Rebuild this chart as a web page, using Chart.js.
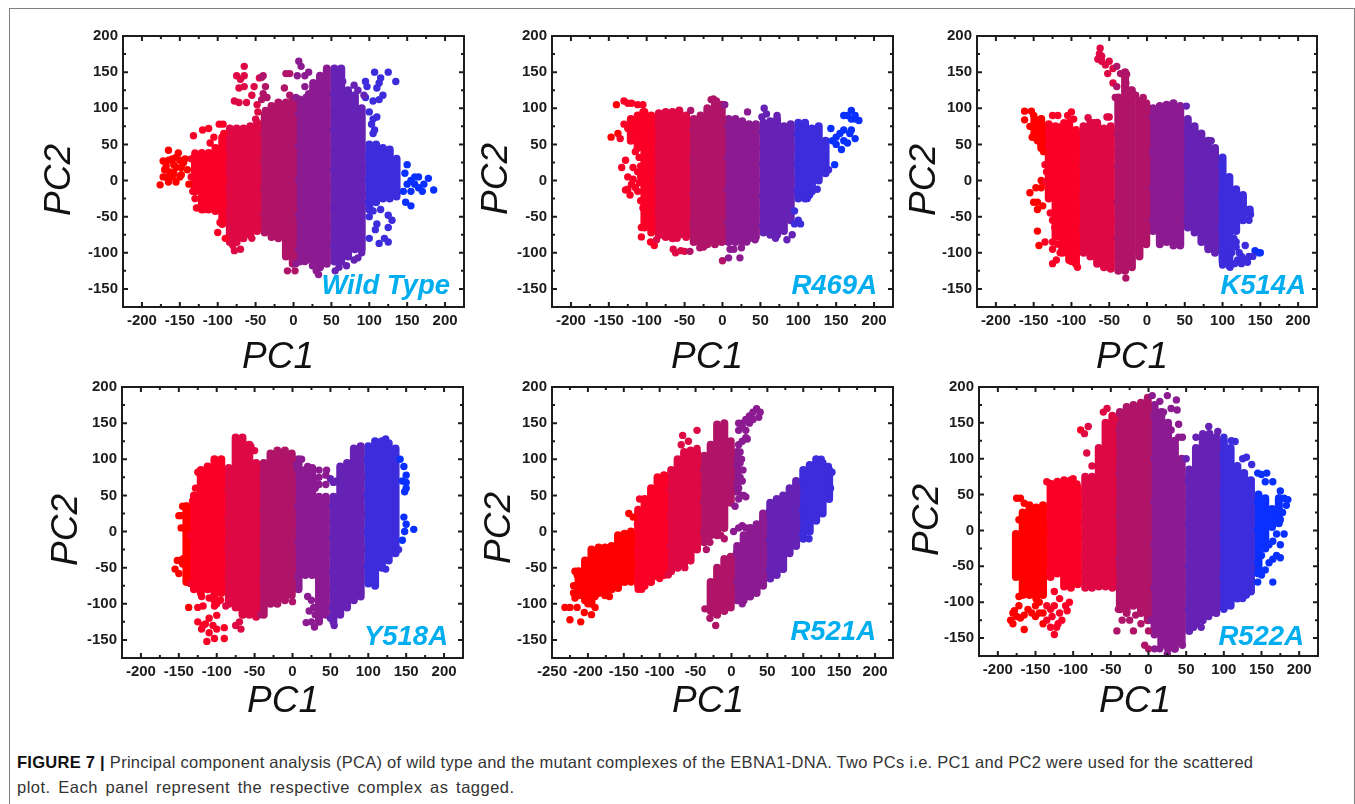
<!DOCTYPE html>
<html lang="en">
<head>
<title>Figure 7 PCA</title>
<script src="https://cdn.jsdelivr.net/npm/chart.js@4.4.1/dist/chart.umd.min.js"></script>
<style>
    body { margin: 0; background: #fff; width: 1355px; height: 804px; overflow: hidden; position: relative; font-family: "Liberation Sans", Arial, sans-serif; }
    canvas { position: absolute; }
    .rule { position: absolute; background: #808080; }
    .axisname { position: absolute; font: italic 37px "Liberation Sans", Arial, sans-serif; color: #111; white-space: nowrap; transform: translate(-50%, -50%); }
    .axisname.v { transform: translate(-50%, -50%) rotate(-90deg); }
    .tag { position: absolute; font: italic bold 27.5px "Liberation Sans", Arial, sans-serif; color: #00aeef; white-space: nowrap; transform: translateY(-50%); }
    .caption { position: absolute; left: 17px; font-size: 16.5px; color: #333; white-space: nowrap; transform: translateY(-50%); }
    .caption b { color: #111; }
</style>
</head>
<body>
<div class="rule" style="left:9px;top:8px;width:1346px;height:1px"></div>
<div class="rule" style="left:9px;top:8px;width:1px;height:796px"></div>
<div class="rule" style="left:1354px;top:8px;width:1px;height:796px"></div>
<div class="caption" style="top:762px;letter-spacing:0.27px"><b>FIGURE 7 | </b>Principal component analysis (PCA) of wild type and the mutant complexes of the EBNA1-DNA. Two PCs i.e. PC1 and PC2 were used for the scattered</div>
<div class="caption" style="top:787px;letter-spacing:0.5px;word-spacing:2.5px">plot. Each panel represent the respective complex as tagged.</div>

<script>
    // ticks
    const xTicks = [-200, -150, -100, -50, 0, 50, 100, 150, 200];
    const xMinor = [-175, -125, -75, -25, 25, 75, 125, 175];
    const xTicksWide = [-250, -200, -150, -100, -50, 0, 50, 100, 150, 200];
    const xMinorWide = [-225, -175, -125, -75, -25, 25, 75, 125, 175];
    const yTicks = [-150, -100, -50, 0, 50, 100, 150, 200];
    const yMinor = [-125, -75, -25, 25, 75, 125, 175];

    // colour bands along PC1
    const bandEdges = [-135, -89, -43, 3, 49, 95, 141];
    const bandColors = ['#ff0000', '#fb0027', '#de0845', '#b01468', '#8c1a90', '#6622b4', '#3c2cdc', '#0a30ff'];

    // Wild Type
    const wtX =   [-130,-121,-112,-103, -94, -84, -75, -66, -57, -48, -38, -29, -20, -10,  -1,   8,  17,  26,  35,  44,  54,  63,  72,  81,  90, 100, 109, 118, 127, 136];
    const wtTop = [  35,  38,  38,  45,  60,  72,  72,  72,  75,  80,  92, 103, 108, 108, 110, 112, 115, 135, 145, 155, 155, 155, 125, 118, 100,  50,  50,  45,  43,  30];
    const wtBot = [ -15, -40, -40, -42, -60, -85, -85, -80, -75, -70, -72, -78, -80,-105,-115,-112,-110,-112,-120,-115,-112,-112,-105, -95, -95, -40, -30, -25, -25, -22];
    const wtStray = [[-176,-6],[-172,27],[-165,42],[-152,38],[-168,20],[-160,30],[-150,28],[-155,18],[-145,25],[-172,5],[-160,5],[-150,5],[-155,-2],[-165,-2],[-148,8],[-135,30],[-130,38],
        [-170,15],[-163,12],[-158,22],[-165,28],[-155,32],[-148,18],[-143,30],[-158,10],[-168,5],[-138,-5],[-135,5],[-140,15],
        [-132,62],[-120,70],[-112,72],[-105,60],[-98,78],[-93,78],[-92,65],[-110,52],[-130,-10],[-133,-15],[-130,-25],[-128,-38],[-118,-40],[-100,-72],[-97,-58],[-90,-80],
        [-75,145],[-70,140],[-65,158],[-65,145],[-72,128],[-65,130],[-78,110],[-72,108],[-62,108],[-55,118],[-48,105],[-45,142],[-42,143],[-40,145],[-52,130],[-37,130],[-40,120],[-35,115],[-42,112],[-47,95],[-50,85],[-37,97],
        [-80,-90],[-78,-97],[-70,-95],[-55,-80],[-12,128],[-10,148],[-5,148],[-5,118],[3,115],[5,145],[7,165],[10,158],[15,145],[15,130],[20,150],[20,120],
        [-8,-125],[2,-125],[3,-115],[15,-112],[30,-125],[33,-130],[25,-118],[55,-125],[60,-120],[70,-118],[80,-110],[90,-100],[85,-107],
        [95,115],[97,130],[95,137],[107,150],[113,135],[115,142],[125,150],[135,137],[110,128],[118,118],[105,110],[113,112],[100,95],[105,85],[110,88],[103,78],[107,70],[105,65],[93,118],[80,132],[65,137],[85,125],
        [100,-50],[105,-42],[115,-40],[125,-48],[110,-60],[108,-68],[130,-55],[125,-65],[120,-80],[125,-85],[113,-87],[100,-80],
        [147,10],[150,22],[145,-15],[155,-15],[148,-30],[155,-35],[165,-10],[170,-15],[160,5],[165,5],[178,3],[185,-13],[155,0],[150,-5],[160,-5],[172,-5]];
    const wtSeam = [[-85,50],[-93,35],[-85,18],[-93,2],[-85,-14],[-93,-28],[-85,-45],
        [-39,62],[-47,45],[-39,28],[-47,8],[-39,-12],[-47,-30],[-39,-48],[-47,-62],
        [7,92],[-1,70],[7,48],[-1,25],[7,0],[-1,-25],[7,-48],[-1,-72],[7,-95],
        [53,120],[45,95],[53,70],[45,42],[53,15],[45,-10],[53,-38],[45,-65],[53,-90],
        [99,35],[91,18],[99,0],[91,-18],[99,-30]];

    // R469A
    const r469X =   [-121,-112,-103, -94, -84, -75, -66, -57, -48, -38, -29, -20, -10,  -1,   8,  17,  26,  35,  44,  54,  63,  72,  81,  90, 100, 109, 118, 127, 136];
    const r469Top = [  85,  90,  95,  90,  93,  95,  95,  97,  90,  85,  90, 100, 108, 105,  85,  85,  82,  78,  78,  80,  82,  85,  75,  78,  80,  80,  72,  75,  55];
    const r469Bot = [  55,  45, -65, -72, -75, -78, -80, -75, -78, -85, -88, -88, -88, -85, -85, -85, -85, -80, -78, -72, -75, -75, -70, -55, -25, -25, -15,   0,  10];
    const r469Stray = [[-147,60],[-140,105],[-138,65],[-135,58],[-130,110],[-125,107],[-120,107],[-112,105],[-105,105],[-105,95],[-128,28],[-133,18],[-118,18],[-125,5],[-120,-5],[-128,-13],[-122,-20],[-115,-10],[-110,-3],[-108,5],[-105,-15],[-105,-38],[-100,-40],[-103,-52],[-107,-65],[-107,-78],[-95,-85],[-90,-90],[-87,-82],[-80,-75],
        [-115,40],[-110,32],[-108,20],[-112,12],[-118,2],[-125,-12],[-112,-15],[-108,-28],[-130,78],[-125,72],
        [-65,-95],[-62,-100],[-55,-97],[-50,-98],[-43,-98],[-60,-80],[-42,-72],[-30,-93],[-25,-92],[-42,97],[-15,112],[-12,113],[-8,110],[3,105],[0,-111],[8,-107],[23,-107],[10,-95],[15,-95],[25,-93],[32,-85],[43,-82],[33,95],[55,100],[52,88],[72,90],[58,92],[75,75],
        [70,-80],[85,-82],[92,-75],[95,-60],[100,-55],[103,-60],[90,-30],[95,-42],[115,-20],[112,-25],[125,-12],[140,15],[148,22],[145,55],[150,60],[155,65],[143,72],[160,70],[150,50],[160,55],[165,52],[157,43],[165,90],[170,85],[170,97],[175,85],[180,83],[175,90],[170,70],[168,65],[175,58],[160,90]];
    const r469Seam = [[-85,78],[-93,60],[-85,40],[-93,20],[-85,0],[-93,-20],[-85,-42],[-93,-60],
        [-39,70],[-47,50],[-39,28],[-47,5],[-39,-18],[-47,-40],[-39,-60],[-47,-72],
        [7,75],[-1,55],[7,32],[-1,10],[7,-12],[-1,-35],[7,-58],[-1,-75],
        [53,68],[45,45],[53,22],[45,0],[53,-22],[45,-45],[53,-62],
        [99,65],[91,45],[99,22],[91,2],[99,-15]];

    // K514A
    const k514X =   [-149,-140,-130,-121,-112,-103, -94, -84, -75, -66, -57, -48, -38, -29, -20, -10,  -1,   8,  17,  26,  35,  44,  54,  63,  72,  81,  90, 100, 109, 118, 127, 136];
    const k514Top = [  85,  85,  78,  75,  75,  80,  70,  75,  80,  80,  72,  75, 115, 150, 125, 110, 107, 100, 103, 105, 107, 103,  85,  75,  65,  55,  45,  32,   5, -12, -20, -40];
    const k514Bot = [  60,  45, -25, -78,-100,-110,-115,-100,-105,-115,-120,-122,-125,-125,-120,-105, -88, -70, -88, -85, -90, -90, -65, -72, -85, -95,-100,-112,-118, -70, -55, -45];
    const k514Stray = [[-62,183],[-63,175],[-65,168],[-60,165],[-55,160],[-50,165],[-45,155],[-40,158],[-35,148],[-27,147],[-45,135],[-40,130],[-28,135],[-22,125],[-15,118],[-5,115],[-42,115],[-52,148],[-60,172],
        [-162,96],[-153,96],[-162,84],[-150,90],[-155,75],[-150,60],[-140,85],[-152,60],[-145,55],[-137,40],[-135,22],[-133,12],[-140,0],[-135,-2],[-140,-10],[-147,-10],[-155,-17],[-150,-30],[-145,-30],[-145,-40],[-138,-35],[-145,-70],[-143,-90],[-135,-85],[-125,-85],[-125,-115],[-120,-75],[-105,-100],[-100,-112],[-92,-120],[-118,90],[-125,90],[-110,80],[-100,95],[-97,85],[-105,90],[-50,88],[-53,88],[-78,87],[-70,80],
        [-145,70],[-140,65],[-138,55],[-128,-45],[-125,-55],[-122,-65],[-115,-100],[-125,-95],[-120,-110],[-118,-88],
        [115,-80],[118,-85],[130,-90],[143,-97],[148,-100],[150,-100],[140,-105],[133,-113],[125,-115],[110,-120],[100,-117],[135,-55],[137,-47],[52,103],[85,55],[-12,-95],[-28,-135],
        [118,-92],[122,-100],[125,-105],[130,-110],[120,-110],[135,-105],[112,-100],[116,-115]];
    const k514Seam = [[-85,62],[-93,42],[-85,20],[-93,0],[-85,-22],[-93,-45],[-85,-68],[-93,-90],
        [-39,65],[-47,42],[-39,18],[-47,-5],[-39,-30],[-47,-55],[-39,-80],[-47,-105],
        [7,88],[-1,65],[7,40],[-1,15],[7,-10],[-1,-35],[7,-55],
        [53,72],[45,50],[53,28],[45,5],[53,-18],[45,-40],[53,-55],
        [99,20],[91,0],[99,-20],[91,-42],[99,-65],[91,-88]];

    // Y518A
    const y518X =   [-140,-130,-121,-112,-103, -94, -84, -75, -66, -57, -48, -38, -29, -20, -10,  -1,   8,  17,  26,  35,  44,  54,  63,  72,  81,  90, 100, 109, 118, 127, 136];
    const y518Top = [  35,  50,  85,  90, 100, 100,  88, 130, 130, 120,  95,  95, 108, 112, 112, 108, 100,  85,  88,  48,  48,  48,  90,  95, 115, 118, 118, 125, 125, 122, 115];
    const y518Bot = [ -70, -80, -85, -80, -95, -85,-100,-105,-115,-115,-118,-115,-100,-100, -95, -88, -80, -60, -60,-125,-115,-125,-115,-105, -95, -90, -72, -75, -50, -40, -30];
    const y518Stray = [[123,128],[147,90],[150,78],[150,68],[150,60],[148,55],[145,70],[142,100],[147,20],[150,10],[148,0],[145,-12],[160,3],[140,-25],[135,-30],[123,-52],
        [-155,-52],[-152,-40],[-150,-58],[-145,-38],[-150,22],[-147,22],[-145,35],[-140,35],[-147,5],[-140,5],[-135,-5],[-145,-45],[-140,-60],[-135,-72],[-132,42],[-128,60],[-125,82],
        [-120,-90],[-118,-103],[-110,-92],[-100,-100],[-95,-95],[-88,-103],[-137,-105],[-103,-103],[-125,-105],
        [-125,-125],[-120,-135],[-115,-128],[-110,-120],[-105,-130],[-100,-116],[-110,-140],[-100,-135],[-113,-152],[-103,-148],[-90,-148],[-90,-133],[-118,-130],
        [-75,-130],[-70,-125],[-68,-135],[-65,-115],[-70,-105],[-50,-115],[-42,-115],[-38,-105],[0,-97],[-55,118],[-50,112],[-75,118],
        [18,-126],[25,-125],[29,-132],[35,-122],[55,-130],[50,-120],[20,-90],[25,-95],[22,-110],[28,-105],[30,-115],
        [12,100],[5,92],[20,90],[35,85],[45,85],[50,73],[58,70],[63,68],[35,75],[35,65],[44,78],[44,65],[54,68],[28,70],[30,60]];
    const y518Seam = [[-85,58],[-93,38],[-85,18],[-93,-2],[-85,-22],[-93,-42],[-85,-62],
        [-39,78],[-47,55],[-39,30],[-47,8],[-39,-18],[-47,-42],[-39,-68],[-47,-92],
        [7,85],[-1,60],[7,35],[-1,10],[7,-15],[-1,-40],[7,-62],
        [53,35],[45,15],[53,-8],[45,-30],[53,-55],[45,-80],[53,-105],
        [99,100],[91,75],[99,50],[91,25],[99,0],[91,-25],[99,-48]];

    // R521A, upper lobe then lower lobe
    const r521X =   [-213,-204,-195,-185,-176,-167,-158,-149,-140,-130,-121,-112,-103, -94, -84, -75, -66, -57, -48, -38, -29, -20, -10,  -1,   8];
    const r521Top = [ -55, -40, -25, -22, -22, -20,  -5,  -3,   0,  30,  45,  60,  75,  78,  85, 100, 110, 112, 110, 105, 120, 148, 150, 125, 110];
    const r521Bot = [ -88, -95,-100, -85, -88, -80, -78, -70, -65, -75, -75, -70, -62, -60, -55, -50, -45, -40, -25, -15,  -5,  -5,   5,  40,  55];
    const r521LowX =   [ -29, -20, -10,  -1,   8,  17,  26,  35,  44,  54,  63,  72,  81,  90, 100, 109, 118, 127, 136];
    const r521LowTop = [ -70, -50, -38, -35, -20,  -5,   5,  10,  25,  40,  45,  50,  60,  70,  85,  92, 100,  95,  85];
    const r521LowBot = [-110,-115,-110,-105, -95, -95, -90, -85, -75, -65, -60, -52, -30, -20, -10,   0,  15,  25,  45];
    const r521Stray = [[-232,-105],[-225,-122],[-225,-105],[-220,-75],[-218,-55],[-215,-105],[-210,-125],[-205,-112],[-195,-115],[-190,-105],[-170,-90],[-200,-55],[-155,-70],[-215,-60],[-210,-70],[-220,-85],[-218,-92],[-200,-100],[-190,-90],
        [-143,25],[-137,20],[-128,45],[-140,-70],[-130,-80],[-125,-80],[-120,-68],[-100,-65],[-88,-60],[-77,-48],[-65,-50],[-57,-40],[-35,-25],[-30,-15],[-28,0],[-48,115],[-68,133],[-60,125],[-48,140],[-70,120],[-15,-5],[-10,-10],[3,0],[10,5],[15,8],[20,5],
        [10,140],[15,150],[20,155],[25,160],[30,165],[35,170],[40,165],[38,158],[15,125],[20,130],[10,120],[8,100],[8,90],[10,85],[8,70],[8,60],[15,50],[10,45],[5,35],[10,150],[15,145],[20,140],[25,150],[30,155],[22,128],[12,110],[14,100],[12,95],[16,85],[12,75],[15,70],[10,60],[17,50],[20,48],
        [15,-100],[-37,-107],[-30,-120],[-22,-130],[-25,-112],[72,-52],[108,-10],[120,30],[135,55],[135,90],[140,82],[133,70],[138,60],[125,100],[118,95],[112,88]];
    const r521Seam = [[-131,10],[-139,-8],[-131,-28],[-139,-48],[-131,-62],
        [-85,60],[-93,42],[-85,20],[-93,0],[-85,-20],[-93,-40],
        [-39,85],[-47,65],[-39,42],[-47,20],[-39,0],
        [7,-30],[-1,-50],[7,-70],[-1,-90],
        [53,28],[45,8],[53,-12],[45,-32],[53,-52],
        [99,70],[91,50],[99,30],[91,10],[99,-5]];

    // R522A
    const r522X =   [-176,-167,-158,-149,-140,-130,-121,-112,-103, -94, -84, -75, -66, -57, -48, -38, -29, -20, -10,  -1,   8,  17,  26,  35,  44,  54,  63,  72,  81,  90, 100, 109, 118, 127, 136, 146, 155, 164, 173];
    const r522Top = [  -5,  25,  35,  32,  35,  65,  68,  70,  70,  60,  75,  75, 115, 150, 160, 165, 172, 175, 178, 185, 175, 165, 150, 125, 100,  85, 115, 130, 135, 130, 125, 115,  90,  80,  70,  50,  45,  30,  45];
    const r522Bot = [ -65, -90, -90, -95, -90, -65, -60, -78, -80, -75, -80, -80, -78, -78, -80,-110,-115,-105,-115,-125,-145,-160,-165,-165,-155,-140,-130,-125,-115,-115,-108,-105, -95, -90, -85, -55, -25,   5,  10];
    const r522Stray = [[-183,-125],[-178,-112],[-180,-130],[-172,-105],[-165,-138],[-170,-122],[-160,-110],[-155,-115],[-150,-105],[-145,-115],[-140,-115],[-135,-105],[-130,-110],[-140,-130],[-130,-135],[-125,-145],[-120,-130],[-115,-125],[-125,-85],[-118,-95],[-110,-105],[-108,-112],[-105,-100],[-118,-115],
        [-175,-120],[-165,-118],[-150,-120],[-145,-100],[-135,-125],[-128,-120],[-122,-135],[-125,-105],[-180,-115],
        [-175,45],[-170,45],[-165,38],[-172,15],[-172,-92],[-135,68],[-100,72],[-95,65],[-90,140],[-85,135],[-80,145],[-82,108],[-75,90],[-60,165],[-55,170],[-45,155],
        [5,188],[15,180],[25,188],[37,182],[38,168],[30,170],[20,165],[40,130],[45,130],[40,148],[30,140],[35,115],[50,100],[63,130],[72,135],[80,145],[92,138],[100,130],[110,125],[115,124],[102,115],
        [125,100],[130,102],[137,92],[145,80],[150,78],[157,80],[155,68],[165,68],[175,55],[180,45],[185,43],[183,35],[178,25],[170,-5],[165,-15],[180,-5],[175,-20],[160,-20],[155,-25],[150,-35],[170,-35],[175,-38],[165,-40],[160,-45],[155,-55],[145,-60],[150,-62],[165,-72],[145,-72],[165,20],[170,28],[175,15],
        [-40,-110],[-42,-140],[-35,-125],[-25,-125],[-20,-140],[-10,-130],[-17,-118],[0,-140],[-5,-160],[0,-165],[8,-165],[15,-165],[25,-172],[35,-165],[45,-160],[3,-125],[60,-135],[70,-135],[80,-120],[90,-115],[100,-110],[125,-95],[130,-90]];
    const r522Seam = [[-131,20],[-139,0],[-131,-20],[-139,-40],[-131,-58],
        [-85,55],[-93,35],[-85,12],[-93,-10],[-85,-35],[-93,-58],
        [-39,140],[-47,110],[-39,80],[-47,50],[-39,20],[-47,-10],[-39,-40],[-47,-70],
        [7,160],[-1,130],[7,100],[-1,70],[7,40],[-1,10],[7,-20],[-1,-50],[7,-80],[-1,-110],
        [53,70],[45,40],[53,10],[45,-20],[53,-50],[45,-80],[53,-110],
        [99,105],[91,80],[99,55],[91,25],[99,-5],[91,-35],[99,-65],[91,-95],
        [145,40],[137,20],[145,0],[137,-20],[145,-45]];

    // panel layout in page pixels
    const panels = [
        { tag: 'Wild Type', left: 123, top: 32, w: 341, h: 275, xMin: -225, xT: xTicks, xM: xMinor, cols: [[wtX, wtTop, wtBot]], stray: wtStray.concat(wtSeam), pc1: [278, 356], pc2: [58, 180], tagRight: 450, tagY: 285 },
        { tag: 'R469A', left: 552, top: 32, w: 341, h: 275, xMin: -225, xT: xTicks, xM: xMinor, cols: [[r469X, r469Top, r469Bot]], stray: r469Stray.concat(r469Seam), pc1: [707, 356], pc2: [495, 179], tagRight: 877, tagY: 285 },
        { tag: 'K514A', left: 977, top: 32, w: 340, h: 275, xMin: -225, xT: xTicks, xM: xMinor, cols: [[k514X, k514Top, k514Bot]], stray: k514Stray.concat(k514Seam), pc1: [1132, 356], pc2: [923, 180], tagRight: 1306, tagY: 285 },
        { tag: 'Y518A', left: 122, top: 383, w: 341, h: 275, xMin: -225, xT: xTicks, xM: xMinor, cols: [[y518X, y518Top, y518Bot]], stray: y518Stray.concat(y518Seam), pc1: [283, 700], pc2: [65, 530], tagRight: 448, tagY: 636 },
        { tag: 'R521A', left: 552, top: 383, w: 341, h: 275, xMin: -250, xT: xTicksWide, xM: xMinorWide, cols: [[r521X, r521Top, r521Bot], [r521LowX, r521LowTop, r521LowBot]], stray: r521Stray.concat(r521Seam), pc1: [708, 700], pc2: [498, 528], tagRight: 876, tagY: 631 },
        { tag: 'R522A', left: 979, top: 383, w: 339, h: 273, xMin: -225, xT: xTicks, xM: xMinor, cols: [[r522X, r522Top, r522Bot]], stray: r522Stray.concat(r522Seam), pc1: [1135, 700], pc2: [926, 520], tagRight: 1304, tagY: 636 }
    ];

    function bandColor(x) {
        let i = 0;
        while (i < bandEdges.length && x >= bandEdges[i]) i++;
        return bandColors[i];
    }

    // frame and inward ticks on all four sides
    const frameTicks = {
        id: 'frameTicks',
        afterDraw(chart, args, opts) {
            const { ctx, chartArea: a, scales: { x, y } } = chart;
            ctx.save();
            ctx.strokeStyle = '#1c1c1c';
            ctx.lineWidth = 2;
            const mark = (vals, len) => {
                vals.forEach(v => {
                    const px = x.getPixelForValue(v);
                    ctx.moveTo(px, a.bottom); ctx.lineTo(px, a.bottom - len);
                    ctx.moveTo(px, a.top); ctx.lineTo(px, a.top + len);
                });
            };
            const markY = (vals, len) => {
                vals.forEach(v => {
                    const py = y.getPixelForValue(v);
                    ctx.moveTo(a.left, py); ctx.lineTo(a.left + len, py);
                    ctx.moveTo(a.right, py); ctx.lineTo(a.right - len, py);
                });
            };
            ctx.beginPath();
            mark(opts.xT, 5); mark(opts.xM, 3);
            markY(yTicks, 5); markY(yMinor, 3);
            ctx.stroke();
            ctx.strokeRect(a.left, a.top, a.right - a.left, a.bottom - a.top);
            ctx.restore();
        }
    };

    function addText(cls, text, css) {
        const d = document.createElement('div');
        d.className = cls;
        d.textContent = text;
        Object.assign(d.style, css);
        document.body.appendChild(d);
    }

    const padLeft = 50, padTop = 10, padRight = 10, padBottom = 35;

    panels.forEach(p => {
        const canvas = document.createElement('canvas');
        canvas.width = p.w + padLeft + padRight;
        canvas.height = p.h + padTop + padBottom;
        canvas.style.left = (p.left - padLeft) + 'px';
        canvas.style.top = (p.top - padTop) + 'px';
        document.body.appendChild(canvas);

        // first dataset is painted last, so the loose points stay on top of the columns
        const datasets = [{
            data: p.stray.map(s => ({ x: s[0], y: s[1] })),
            showLine: false, pointRadius: 3.7, pointBorderWidth: 0,
            pointBackgroundColor: p.stray.map(s => bandColor(s[0]))
        }];
        p.cols.forEach(([xs, tops, bots]) => {
            xs.forEach((x, i) => {
                const c = bandColor(x);
                datasets.push({
                    data: [{ x: x, y: tops[i] }, { x: x, y: bots[i] }],
                    showLine: true, borderColor: c, borderWidth: 8, borderCapStyle: 'round',
                    pointRadius: 0
                });
            });
        });

        new Chart(canvas, {
            type: 'scatter',
            data: { datasets: datasets },
            options: {
                responsive: false,
                animation: false,
                layout: { padding: { top: padTop, right: padRight } },
                plugins: {
                    legend: { display: false },
                    tooltip: { enabled: false },
                    frameTicks: { xT: p.xT, xM: p.xM }
                },
                scales: {
                    x: {
                        min: p.xMin, max: 225,
                        grid: { display: false, drawTicks: false }, border: { display: false },
                        afterBuildTicks: s => { s.ticks = p.xT.map(v => ({ value: v })); },
                        afterFit: s => { s.height = padBottom; },
                        ticks: { autoSkip: false, maxRotation: 0, padding: 5, color: '#1c1c1c', font: { family: '"Liberation Sans"', size: 15, weight: 'bold' } }
                    },
                    y: {
                        min: -175, max: 200,
                        grid: { display: false, drawTicks: false }, border: { display: false },
                        afterBuildTicks: s => { s.ticks = yTicks.map(v => ({ value: v })); },
                        afterFit: s => { s.width = padLeft; },
                        ticks: { autoSkip: false, padding: 5, color: '#1c1c1c', font: { family: '"Liberation Sans"', size: 15, weight: 'bold' } }
                    }
                }
            },
            plugins: [frameTicks]
        });

        addText('axisname', 'PC1', { left: p.pc1[0] + 'px', top: p.pc1[1] + 'px' });
        addText('axisname v', 'PC2', { left: p.pc2[0] + 'px', top: p.pc2[1] + 'px' });
        addText('tag', p.tag, { right: (1355 - p.tagRight) + 'px', top: p.tagY + 'px' });
    });
</script>
</body>
</html>
